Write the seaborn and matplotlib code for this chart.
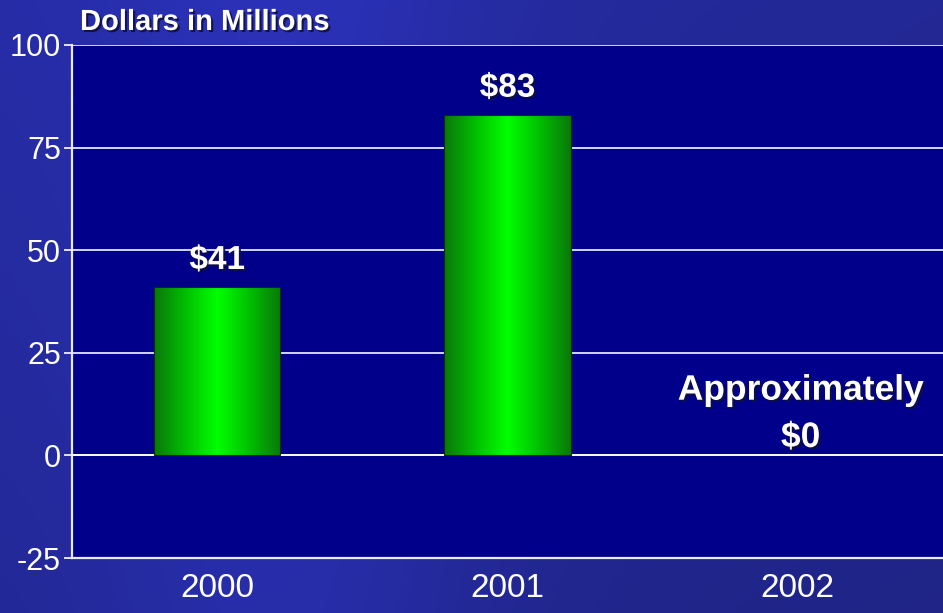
import numpy as np
import pandas as pd
import matplotlib
matplotlib.use("Agg")
import matplotlib.pyplot as plt
import matplotlib.patheffects as pe
from matplotlib import font_manager
from matplotlib.colors import LinearSegmentedColormap
import seaborn as sns

# Data
years = ["2000", "2001", "2002"]
values = [41, 83, 0]
value_labels = ["$41", "$83", "Approximately\n$0"]
y_ticks = [-25, 0, 25, 50, 75, 100]
y_title = "Dollars in Millions"

df = pd.DataFrame({"year": years, "value": values})

sns.set_theme(style="white")
installed = {f.name for f in font_manager.fontManager.ttflist}
narrow = "Liberation Sans Narrow" if "Liberation Sans Narrow" in installed else "Liberation Sans"
plt.rcParams["font.family"] = ["Liberation Sans", "DejaVu Sans"]
plt.rcParams["axes.unicode_minus"] = False

fig = plt.figure(figsize=(9.43, 6.13), dpi=100)

# Slide-style blue gradient background
bg_ax = fig.add_axes([0, 0, 1, 1], zorder=-10)
yy, xx = np.mgrid[0:1:300j, 0:1:460j]
base = np.array([38, 44, 164]) / 255.0
shade = 0.05 * np.exp(-((xx - 0.3) ** 2) / 0.04) - 0.03 * yy - 0.03 * xx
img = np.clip(base[None, None, :] * (1 + shade[..., None] * 3), 0, 1)
bg_ax.imshow(img, aspect="auto", extent=[0, 1, 0, 1], origin="upper")
bg_ax.set_axis_off()

ax = fig.add_axes([72 / 943, 55 / 613, 871 / 943, 513 / 613])
ax.set_facecolor("#00008a")

sns.barplot(data=df, x="year", y="value", ax=ax, width=0.435,
            color="#00e000", edgecolor="#003000", linewidth=0.8, zorder=3)

ax.set_ylim(-25, 100)
ax.set_xlim(-0.5, 2.5)
ax.set_yticks(y_ticks)
ax.set_xlabel("")
ax.set_ylabel("")

# Cylinder-like green shading on each bar
green = LinearSegmentedColormap.from_list(
    "cyl", ["#0a780a", "#00c000", "#00ff00", "#00c000", "#0a780a"])
grad = np.linspace(0, 1, 256)[None, :]
for patch in ax.patches:
    h = patch.get_height()
    if h <= 0:
        patch.set_visible(False)
        continue
    x0 = patch.get_x()
    w = patch.get_width()
    im = ax.imshow(grad, cmap=green, aspect="auto",
                   extent=[x0, x0 + w, 0, h], zorder=3.5)
    im.set_clip_path(patch)
    patch.set_facecolor("none")
    patch.set_zorder(4)
ax.set_xlim(-0.5, 2.5)
ax.set_ylim(-25, 100)

# Grid lines
for t in y_ticks[1:]:
    ax.axhline(t, color="#d0d4ff" if t != 0 else "white", lw=1.4, zorder=2)

for s in ["top", "right"]:
    ax.spines[s].set_visible(False)
for s in ["left", "bottom"]:
    ax.spines[s].set_color("#e8e8ff")
    ax.spines[s].set_linewidth(1.6)

ax.tick_params(axis="y", length=6, width=1.2, color="white", pad=2,
               left=True, labelcolor="white")
ax.tick_params(axis="x", length=0, pad=11, labelcolor="white")
for lab in ax.get_yticklabels():
    lab.set_fontfamily(narrow)
    lab.set_fontsize(22)
for lab in ax.get_xticklabels():
    lab.set_fontfamily(narrow)
    lab.set_fontsize(24)

shadow = [pe.withSimplePatchShadow(offset=(1.5, -1.5), shadow_rgbFace="#101040", alpha=0.9)]

# Value labels
for i, (v, lab) in enumerate(zip(values, value_labels)):
    if v > 0:
        ax.annotate(lab, (i, v), xytext=(0, 8), textcoords="offset points",
                    ha="center", va="bottom", color="white", fontsize=24,
                    fontweight="bold", path_effects=shadow)
    else:
        ax.annotate(lab, (i, v), xytext=(2, 1), textcoords="offset points",
                    ha="center", va="bottom", color="white", fontsize=25.5,
                    fontweight="bold", linespacing=1.55, path_effects=shadow)

fig.text(80 / 943, 1 - 22 / 613, y_title, ha="left", va="center",
         color="white", fontsize=21, fontweight="bold", path_effects=shadow)

fig.savefig("out.png", dpi=100)
